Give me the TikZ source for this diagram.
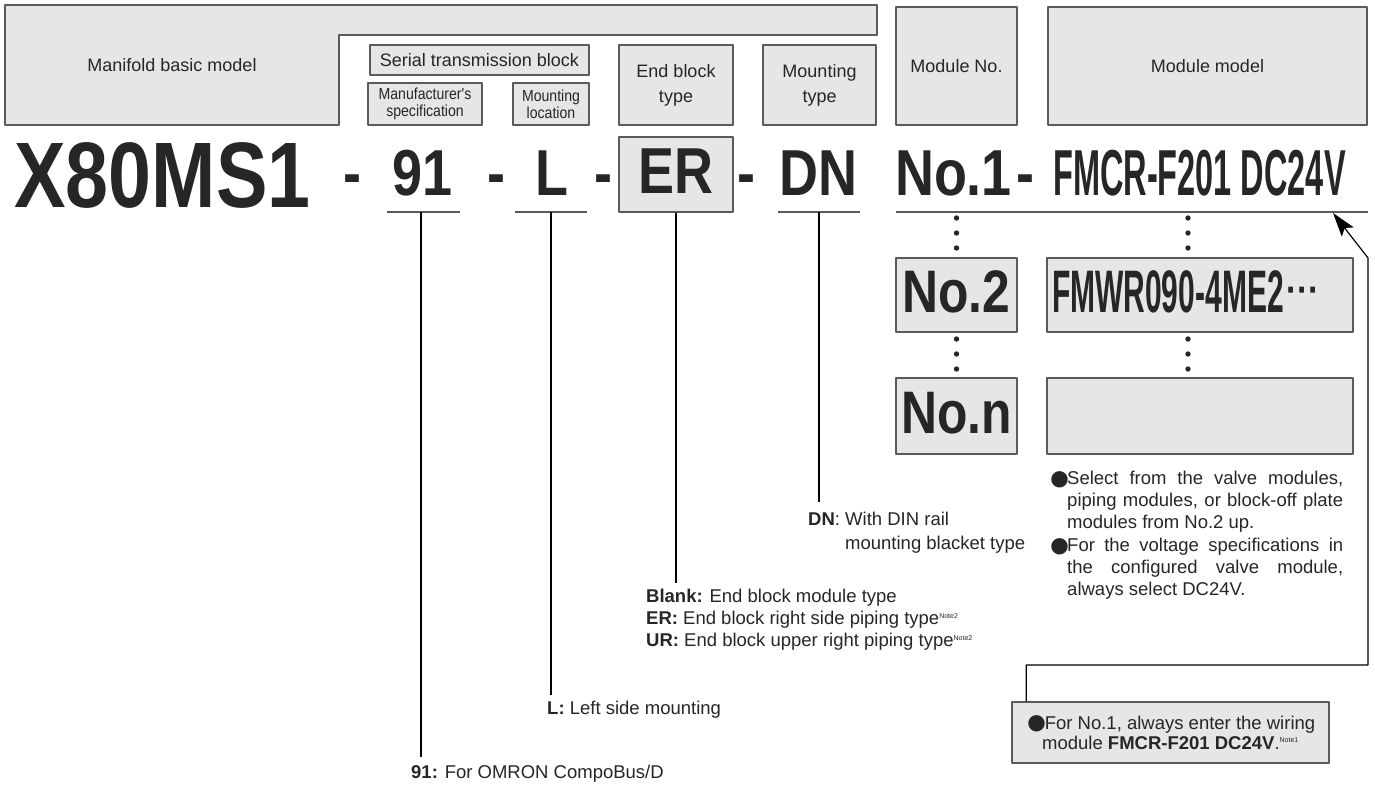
\documentclass[tikz,border=0pt]{standalone}
\usepackage{fontspec}
\setmainfont{Liberation Sans}
\newfontfamily\condfont{Liberation Sans}[FakeStretch=0.83]
\newfontfamily\narrowfont{Liberation Sans}[FakeStretch=0.5]
\newfontfamily\tightfont{Liberation Sans}[FakeStretch=0.88]
\usetikzlibrary{arrows.meta,calc}
\definecolor{boxfill}{HTML}{E6E6E6}
\definecolor{boxline}{HTML}{5A5A5A}
\definecolor{txt}{HTML}{262626}
\newcommand\blt{\makebox[19pt][l]{\raisebox{-5.5pt}{\fontsize{38}{20}\selectfont ●}}}
\newcommand\nt[1]{\textsuperscript{\fontsize{7}{7}\selectfont #1}}
\begin{document}
\begin{tikzpicture}[x=1pt,y=-1pt,>={Stealth[length=24pt,width=15pt,inset=5pt]}, line join=round, font=\fontsize{18.5}{22}\selectfont, text=txt]
		\tikzset{hdr/.style={draw=boxline, fill=boxfill, line width=1.4pt, inner sep=0pt, align=center, font=\fontsize{18}{25}\selectfont},
		subhdr/.style={hdr, font=\tightfont\fontsize{16}{17}\selectfont},
		codebox/.style={draw=boxline, fill=boxfill, line width=1.4pt, inner sep=0pt, text depth=6pt},
		code/.style={inner sep=0pt, anchor=base, font=\condfont\bfseries\fontsize{65}{65}\selectfont},
		model/.style={code, font=\narrowfont\bfseries\fontsize{65}{65}\selectfont},
		uline/.style={draw=boxline, line width=1.4pt},
		lead/.style={draw=black, line width=1.2pt},
		desc/.style={inner sep=0pt, anchor=base west, align=left}}
		\def\codey{195}
		\useasboundingbox (0,0) rectangle (1375,785);
		\filldraw[draw=boxline, fill=boxfill, line width=1.4pt] (5,5) -- (877,5) -- (877,35) -- (339,35) -- (339,125) -- (5,125) -- cycle;
		\node[font=\fontsize{18}{25}\selectfont] (mfd) at (172,65) {Manifold basic model};
		\node[hdr, minimum width=219pt, minimum height=30pt] (serial) at (479.5,60) {Serial transmission block};
		\node[subhdr, minimum width=114pt, minimum height=42pt] (manuf) at (425,104) {Manufacturer's\\specification};
		\node[subhdr, minimum width=76pt, minimum height=42pt] (mloc) at (551,104) {Mounting\\location};
		\node[hdr, minimum width=114pt, minimum height=80pt] (endblk) at (676,85) {End block\\type};
		\node[hdr, minimum width=113pt, minimum height=80pt] (mtype) at (819.5,85) {Mounting\\type};
		\node[hdr, minimum width=121pt, minimum height=118pt] (modno) at (956.5,66) {Module No.};
		\node[hdr, minimum width=319pt, minimum height=118pt] (modmdl) at (1207.5,66) {Module model};
		\node[code, font=\condfont\bfseries\fontsize{93}{93}\selectfont] (basic) at (162.5,207) {X80MS1};
		\node[code] (dash1) at (352.5,\codey) {-};
		\node[code] (spec) at (422.5,\codey) {91};
		\node[code] (dash2) at (496.5,\codey) {-};
		\node[code] (loc) at (552,\codey) {L};
		\node[code] (dash3) at (603.5,\codey) {-};
		\node[codebox, code, anchor=center, minimum width=114pt, minimum height=75pt] (ercode) at (676,174.5) {ER};
		\node[code] (dash4) at (746.5,\codey) {-};
		\node[code] (mount) at (818.5,\codey) {DN};
		\node[code] (no1) at (953.5,\codey) {No.1};
		\node[code] (dash5) at (1025.5,\codey) {-};
		\node[model] (mdl1) at (1199.5,\codey) {FMCR-F201 DC24V};
		\draw[uline] (387,212) -- (460,212) (515,212) -- (587,212) (778,212) -- (860,212) (896,212) -- (1368,212);
		\coordinate (u91) at (421,212); \coordinate (uL) at (551,212); \coordinate (uDN) at (819,212);
		\foreach \y in {218,233,248,339,354,369} \fill[txt] (956.5,\y) circle (2.7pt) (1188,\y) circle (2.7pt);
		\node[codebox, code, anchor=center, font=\condfont\bfseries\fontsize{60}{60}\selectfont, minimum width=121pt, minimum height=74pt] (no2) at (956.5,295) {No.2};
		\node[codebox, model, anchor=center, font=\narrowfont\bfseries\fontsize{60}{60}\selectfont, minimum width=306pt, minimum height=74pt, text width=296pt, align=left] (mdl2) at (1200,295) {FMWR090-4ME2\hspace{3pt}\raisebox{9pt}{\condfont\fontsize{40}{40}\selectfont ···}};
		\node[codebox, code, anchor=center, font=\condfont\bfseries\fontsize{60}{60}\selectfont, minimum width=121pt, minimum height=76pt] (non) at (956.5,416) {No.n};
		\node[codebox, minimum width=306pt, minimum height=76pt] (mdln) at (1200,416) {};
		\node[desc] (dDN) at (808,549.6) {\textbf{DN}: With DIN rail\\[2pt]\hphantom{\textbf{DN}: }mounting blacket type};
		\node[desc] (dER) at (646,646.6) {\textbf{Blank:} End block module type\\\textbf{ER:} End block right side piping type\nt{Note2}\\\textbf{UR:} End block upper right piping type\nt{Note2}};
		\node[desc] (dL) at (547,714.6) {\textbf{L:} Left side mounting};
		\node[desc] (d91) at (411,778.6) {\textbf{91:} For OMRON CompoBus/D};
		\node[desc] (selnote) at (1048,528.6) {\blt\makebox[276pt][s]{Select from the valve modules,}\\\hspace*{19pt}\makebox[276pt][s]{piping modules, or block-off plate}\\\hspace*{19pt}modules from No.2 up.};
		\node[desc] (voltnote) at (1048,595.6) {\blt\makebox[276pt][s]{For the voltage specifications in}\\\hspace*{19pt}\makebox[276pt][s]{the configured valve module,}\\\hspace*{19pt}always select DC24V.};
		\node[codebox, text depth=0pt, align=center, minimum width=317pt, minimum height=61pt, font=\fontsize{18.5}{20}\selectfont] (notebox) at (1170.5,732.5) {\blt For No.1, always enter the wiring\\module \textbf{FMCR-F201 DC24V}.\nt{Note1}};
		\draw[lead] (u91) -- ($(u91 |- d91.north)+(0,-8)$);
		\draw[lead] (uL) -- ($(uL |- dL.north)+(0,-6)$);
		\draw[lead] (ercode.south) -- ($(ercode.south |- dER.north)+(0,-6)$);
		\draw[lead] (uDN) -- ($(uDN |- dDN.north)+(0,-10)$);
		\coordinate (bend) at (1368,665); \coordinate (turn) at (1368,258); \coordinate (tip) at (1333,213);
		\draw[lead,->] ([xshift=15pt]notebox.north west) |- (bend) -- (turn) -- (tip);
\end{tikzpicture}
\end{document}
